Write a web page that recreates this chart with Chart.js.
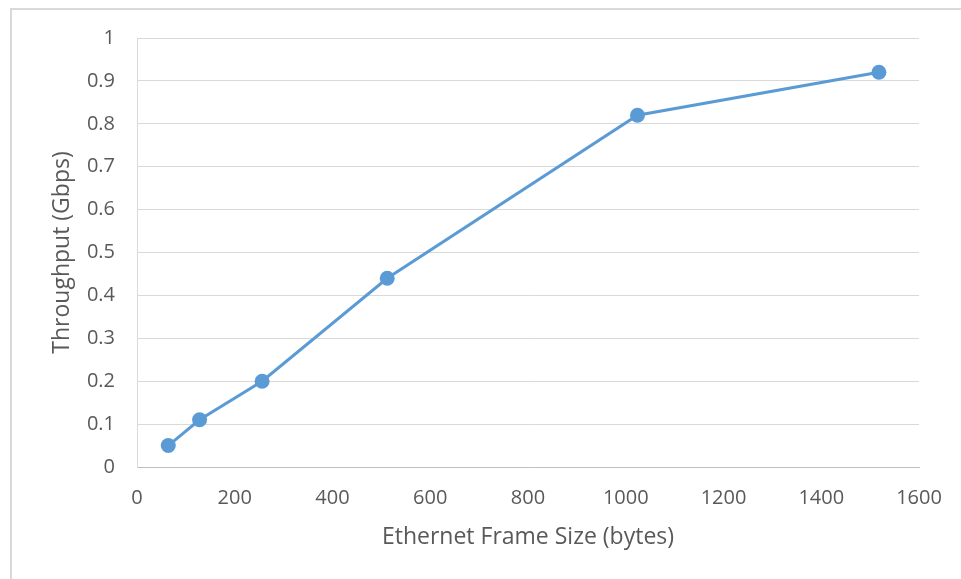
<!DOCTYPE html>
<html>
<head>
<meta charset="utf-8">
<script src="https://cdn.jsdelivr.net/npm/chart.js@4/dist/chart.umd.min.js"></script>
<style>
  html, body { margin: 0; padding: 0; background: #ffffff; }
  #wrap { position: relative; width: 961px; height: 579px; }
</style>
</head>
<body>
<div id="wrap"><canvas id="chart" width="961" height="579"></canvas></div>
<script>
// Throughput measured at each Ethernet frame size
const frameSizes = [64, 128, 256, 512, 1024, 1518];
const throughputGbps = [0.05, 0.11, 0.20, 0.44, 0.82, 0.92];

const xTitle = 'Ethernet Frame Size (bytes)';
const yTitle = 'Throughput (Gbps)';

const textColor = '#595959';
const fontFamily = '"Open Sans", "Noto Sans", sans-serif';
const tickFontSize = 20;
const titleFontSize = 23;

// Light frame around the whole chart
const framePlugin = {
  id: 'frame',
  beforeDraw(chart) {
    const ctx = chart.ctx;
    ctx.save();
    ctx.fillStyle = '#ffffff';
    ctx.fillRect(0, 0, chart.width, chart.height);
    ctx.fillStyle = '#d9d9d9';
    ctx.fillRect(10, 8, chart.width, 2);
    ctx.fillRect(10, 8, 2, chart.height);
    ctx.restore();
  }
};

new Chart(document.getElementById('chart'), {
  type: 'line',
  data: {
    datasets: [{
      data: frameSizes.map((x, i) => ({ x: x, y: throughputGbps[i] })),
      borderColor: '#5b9bd5',
      backgroundColor: '#5b9bd5',
      borderWidth: 3,
      pointRadius: 7.5,
      pointHoverRadius: 7.5,
      pointBorderWidth: 0,
      tension: 0,
      fill: false
    }]
  },
  options: {
    responsive: false,
    animation: false,
    events: [],
    layout: { padding: { left: 0, top: 38, right: 42, bottom: 0 } },
    plugins: {
      legend: { display: false },
      tooltip: { enabled: false }
    },
    scales: {
      x: {
        type: 'linear',
        min: 0,
        max: 1600,
        ticks: {
          stepSize: 200,
          color: textColor,
          font: { family: fontFamily, size: tickFontSize },
          padding: 19,
          maxRotation: 0,
          callback: (v) => String(v)
        },
        grid: { display: false, drawTicks: false },
        border: { display: true, color: '#bfbfbf', width: 1 },
        title: {
          display: true,
          text: xTitle,
          color: textColor,
          font: { family: fontFamily, size: titleFontSize },
          padding: { top: 0, bottom: 28 }
        },
        afterFit(scale) { scale.height = 112; }
      },
      y: {
        min: 0,
        max: 1,
        ticks: {
          stepSize: 0.1,
          color: textColor,
          font: { family: fontFamily, size: tickFontSize },
          padding: 22,
          callback: (v) => String(Math.round(v * 10) / 10)
        },
        grid: { color: '#d9d9d9', lineWidth: 1, drawTicks: false },
        border: { display: true, color: '#d9d9d9', width: 1 },
        title: {
          display: true,
          text: yTitle,
          color: textColor,
          font: { family: fontFamily, size: titleFontSize },
          padding: { top: 49, bottom: 0 }
        },
        afterFit(scale) { scale.width = 137; }
      }
    }
  },
  plugins: [framePlugin]
});
</script>
</body>
</html>
